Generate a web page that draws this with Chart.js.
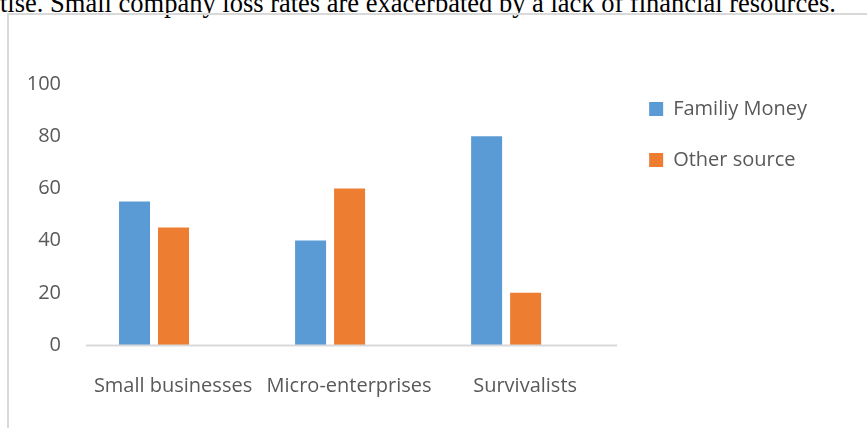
<!DOCTYPE html>
<html>
<head>
<meta charset="utf-8">
<script src="https://cdn.jsdelivr.net/npm/chart.js@4"></script>
<style>
  html, body { margin: 0; padding: 0; background: #fff; width: 867px; height: 428px; overflow: hidden; position: relative; }
  #caption { position: absolute; left: 0; top: -12px; font-family: "Liberation Serif", "Times New Roman", serif; font-size: 26.5px; color: #000; white-space: nowrap; line-height: 30px; }
  #frame { position: absolute; left: 7px; top: 13px; width: 900px; height: 460px; border: 2px solid #d9d9d9; box-sizing: border-box; }
  #wrap { position: absolute; left: 0; top: 0; width: 867px; height: 428px; }
</style>
</head>
<body>
<div id="caption">tise. Small company loss rates are exacerbated by a lack of financial resources.</div>
<div id="frame"></div>
<div id="wrap"><canvas id="c"></canvas></div>
<script>
const categories = ["Small businesses", "Micro-enterprises", "Survivalists"];
const familyMoney = [55, 40, 80];
const otherSource = [45, 60, 20];
const yTicks = [0, 20, 40, 60, 80, 100];

const baseline = {
  id: 'baseline',
  afterDatasetsDraw(chart) {
    const { ctx, chartArea, scales } = chart;
    const y = Math.round(scales.y.getPixelForValue(0)) + 0.5;
    ctx.save();
    ctx.strokeStyle = '#d9d9d9';
    ctx.lineWidth = 2;
    ctx.beginPath();
    ctx.moveTo(chartArea.left + 20, y);
    ctx.lineTo(chartArea.right + 23, y);
    ctx.stroke();
    ctx.restore();
  }
};

const FONT = { family: 'Open Sans', size: 20 };

new Chart(document.getElementById('c'), {
  type: 'bar',
  data: {
    labels: categories,
    datasets: [
      { label: 'Familiy Money', data: familyMoney, backgroundColor: '#5B9BD5' },
      { label: 'Other source', data: otherSource, backgroundColor: '#ED7D31' }
    ]
  },
  options: {
    responsive: true,
    maintainAspectRatio: false,
    animation: false,
    datasets: { bar: { categoryPercentage: 0.443, barPercentage: 0.795 } },
    layout: { padding: { left: 0, top: 68, right: 50, bottom: 0 } },
    scales: {
      x: {
        grid: { display: false, drawTicks: false },
        border: { display: false },
        ticks: { color: '#595959', font: FONT, labelOffset: 19, padding: 29, maxRotation: 0, autoSkip: false },
        afterFit(scale) { scale.height = 83; }
      },
      xTop: {
        type: 'category', position: 'top', display: true,
        grid: { display: false, drawTicks: false }, border: { display: false },
        ticks: { display: false },
        afterFit(scale) { scale.height = 16; }
      },
      y: {
        min: 0, max: 100,
        afterBuildTicks(scale) { scale.ticks = yTicks.map(v => ({ value: v })); },
        grid: { display: false, drawTicks: false },
        border: { display: false },
        ticks: { color: '#595959', font: FONT, padding: 5 },
        afterFit(scale) { scale.width = 66; }
      },
      yRight: {
        type: 'linear', position: 'right', display: true,
        grid: { display: false, drawTicks: false }, border: { display: false },
        ticks: { display: false },
        afterFit(scale) { scale.width = 24; }
      }
    },
    plugins: {
      legend: {
        position: 'right',
        align: 'start',
        fullSize: true,
        maxWidth: 400,
        labels: { color: '#595959', font: FONT, boxWidth: 14, boxHeight: 14, padding: 31 }
      },
      tooltip: { enabled: false }
    }
  },
  plugins: [baseline]
});
</script>
</body>
</html>
